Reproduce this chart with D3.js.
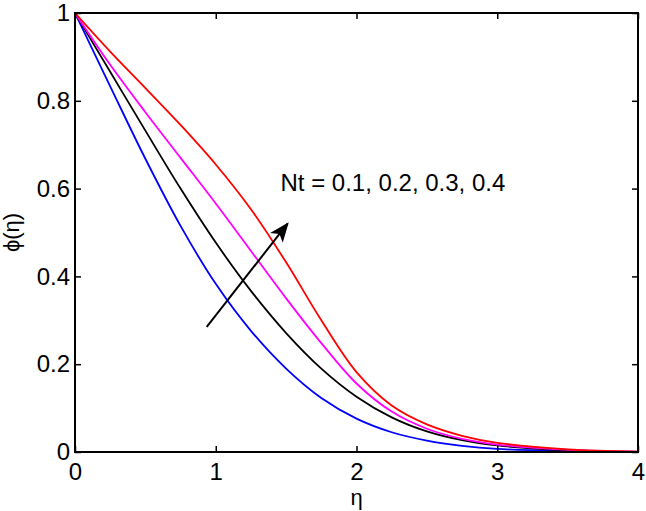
<!DOCTYPE html>
<html>
<head>
<meta charset="utf-8">
<script src="https://cdn.jsdelivr.net/npm/d3@7"></script>
<style>
  html, body { margin: 0; padding: 0; background: #fff; }
  svg { display: block; font-family: "Liberation Sans", Arial, sans-serif; }
</style>
</head>
<body>
<div id="chart"></div>
<script>
// ---- data ----
const eta = [0, 0.25, 0.5, 0.75, 1, 1.25, 1.5, 1.75, 2, 2.25, 2.5, 2.75, 3, 3.5, 4];
const phiNt01 = [1, 0.833, 0.668, 0.515, 0.383, 0.276, 0.190, 0.123, 0.076, 0.045, 0.026, 0.014, 0.007, 0.002, 0];
const phiNt02 = [1, 0.866, 0.732, 0.600, 0.477, 0.367, 0.271, 0.190, 0.126, 0.079, 0.047, 0.027, 0.015, 0.004, 0];
const phiNt03 = [1, 0.882, 0.774, 0.670, 0.566, 0.458, 0.350, 0.248, 0.156, 0.092, 0.053, 0.030, 0.017, 0.005, 0.001];
const phiNt04 = [1, 0.912, 0.829, 0.745, 0.655, 0.553, 0.432, 0.300, 0.182, 0.106, 0.063, 0.037, 0.021, 0.006, 0.001];
const seriesNames = ["Nt = 0.1", "Nt = 0.2", "Nt = 0.3", "Nt = 0.4"];
const seriesColors = ["#0000ff", "#000000", "#ff00ff", "#ff0000"];
const xTicks = [0, 1, 2, 3, 4];
const yTicks = [0, 0.2, 0.4, 0.6, 0.8, 1];
const xLabel = "η";
const yLabel = "ϕ(η)";
const annotationText = "Nt = 0.1, 0.2, 0.3, 0.4";
const annotationPos = [1.46, 0.595];
const arrowFrom = [0.936, 0.285];
const arrowTo = [1.51, 0.52];

// ---- layout ----
const W = 646, H = 511;
const m = { left: 75, right: 8, top: 13, bottom: 59 };
const iw = W - m.left - m.right, ih = H - m.top - m.bottom;

const svg = d3.select("#chart").append("svg").attr("width", W).attr("height", H);
const g = svg.append("g").attr("transform", `translate(${m.left},${m.top})`);

const x = d3.scaleLinear().domain([0, 4]).range([0, iw]);
const y = d3.scaleLinear().domain([0, 1]).range([ih, 0]);

const allSeries = [phiNt01, phiNt02, phiNt03, phiNt04];

const line = d3.line()
  .x(d => x(d[0])).y(d => y(d[1]))
  .curve(d3.curveCatmullRom.alpha(0.5));

g.append("defs").append("clipPath").attr("id", "clip")
  .append("rect").attr("width", iw).attr("height", ih);

const plot = g.append("g").attr("clip-path", "url(#clip)");
allSeries.forEach((s, i) => {
  plot.append("path")
    .datum(eta.map((e, j) => [e, s[j]]))
    .attr("fill", "none")
    .attr("stroke", seriesColors[i])
    .attr("stroke-width", 1.8)
    .attr("d", line)
    .append("title").text(seriesNames[i]);
});

// axes (ticks inside, MATLAB style)
const tickLen = 6;
const fs = 24;
const axB = g.append("g").attr("transform", `translate(0,${ih})`)
  .call(d3.axisBottom(x).tickValues(xTicks).tickSize(-tickLen).tickPadding(11).tickFormat(d3.format("d")));
const axT = g.append("g")
  .call(d3.axisTop(x).tickValues(xTicks).tickSize(-tickLen).tickFormat(""));
const axL = g.append("g")
  .call(d3.axisLeft(y).tickValues(yTicks).tickSize(-tickLen).tickPadding(5).tickFormat(d => d3.format("")(+d.toFixed(1))));
const axR = g.append("g").attr("transform", `translate(${iw},0)`)
  .call(d3.axisRight(y).tickValues(yTicks).tickSize(-tickLen).tickFormat(""));

[axB, axT, axL, axR].forEach(a => {
  a.select(".domain").remove();
  a.selectAll(".tick line").attr("stroke", "#000").attr("stroke-width", 1.5);
  a.selectAll("text").attr("font-size", fs).attr("fill", "#000")
    .attr("font-family", "Liberation Sans, Arial, sans-serif");
});

g.append("rect").attr("width", iw).attr("height", ih)
  .attr("fill", "none").attr("stroke", "#000").attr("stroke-width", 2);

// axis labels
svg.append("text")
  .attr("x", m.left + iw / 2).attr("y", 505)
  .attr("text-anchor", "middle").attr("font-size", 22).text(xLabel);
svg.append("text")
  .attr("transform", `translate(19,${m.top + ih / 2}) rotate(-90)`)
  .attr("text-anchor", "middle").attr("font-size", 22).text(yLabel);

// annotation
g.append("text")
  .attr("x", x(annotationPos[0])).attr("y", y(annotationPos[1]))
  .attr("font-size", 24).attr("fill", "#000").text(annotationText);

// arrow
const defs = svg.append("defs");
defs.append("marker").attr("id", "ah")
  .attr("viewBox", "0 0 20 16").attr("refX", 18).attr("refY", 8)
  .attr("markerWidth", 20).attr("markerHeight", 16)
  .attr("markerUnits", "userSpaceOnUse").attr("orient", "auto")
  .append("path").attr("d", "M0,0 L20,8 L0,16 L5,8 Z").attr("fill", "#000");

g.append("line")
  .attr("x1", x(arrowFrom[0])).attr("y1", y(arrowFrom[1]))
  .attr("x2", x(arrowTo[0])).attr("y2", y(arrowTo[1]))
  .attr("stroke", "#000").attr("stroke-width", 2)
  .attr("marker-end", "url(#ah)");
</script>
</body>
</html>
